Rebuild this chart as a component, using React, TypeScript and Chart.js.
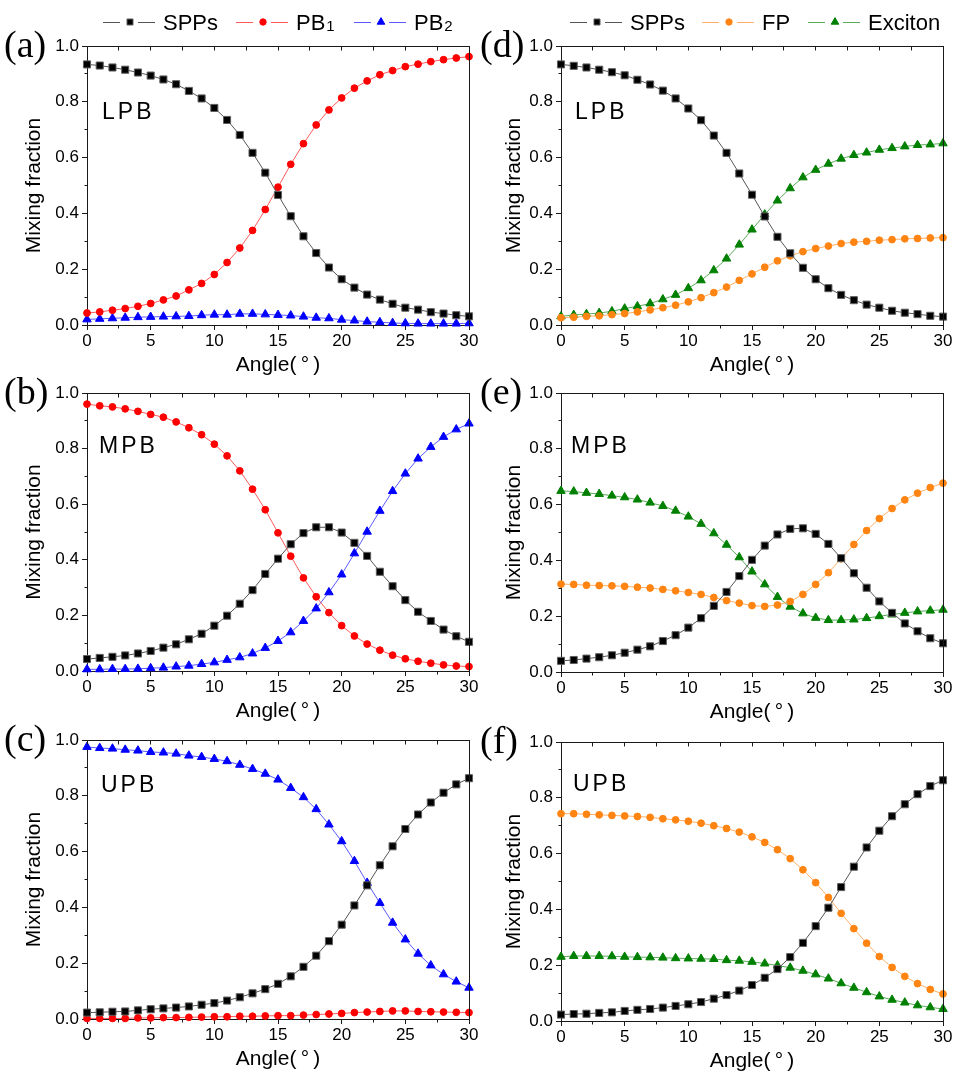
import React, { useEffect, useRef } from 'react';
import { Chart, registerables } from 'chart.js';

Chart.register(...registerables);

// ---------------- data ----------------
const angles = [0, 1, 2, 3, 4, 5, 6, 7, 8, 9, 10, 11, 12, 13, 14, 15, 16, 17, 18, 19, 20, 21, 22, 23, 24, 25, 26, 27, 28, 29, 30];

const xTickValues = [0, 5, 10, 15, 20, 25, 30];
const yTickValues = [0, 0.2, 0.4, 0.6, 0.8, 1.0];

// (a) LPB: SPPs / PB1 / PB2
const aSPPs = [0.934, 0.930, 0.923, 0.915, 0.905, 0.894, 0.880, 0.863, 0.839, 0.812, 0.778, 0.735, 0.681, 0.617, 0.546, 0.466, 0.390, 0.318, 0.258, 0.206, 0.164, 0.134, 0.109, 0.091, 0.076, 0.062, 0.055, 0.046, 0.041, 0.035, 0.031];
const aPB1 = [0.043, 0.047, 0.053, 0.059, 0.067, 0.077, 0.090, 0.104, 0.126, 0.149, 0.181, 0.224, 0.276, 0.339, 0.414, 0.494, 0.576, 0.650, 0.717, 0.771, 0.814, 0.849, 0.875, 0.897, 0.912, 0.926, 0.935, 0.944, 0.951, 0.957, 0.962];
const aPB2 = [0.020, 0.022, 0.024, 0.026, 0.028, 0.029, 0.030, 0.031, 0.032, 0.035, 0.037, 0.037, 0.040, 0.040, 0.038, 0.036, 0.034, 0.030, 0.026, 0.024, 0.019, 0.016, 0.012, 0.010, 0.007, 0.006, 0.005, 0.005, 0.005, 0.005, 0.006];

// (b) MPB: SPPs / PB1 / PB2
const bSPPs = [0.043, 0.047, 0.051, 0.056, 0.063, 0.072, 0.084, 0.096, 0.114, 0.134, 0.163, 0.199, 0.242, 0.291, 0.349, 0.404, 0.456, 0.496, 0.517, 0.517, 0.498, 0.461, 0.414, 0.357, 0.305, 0.255, 0.213, 0.180, 0.149, 0.125, 0.105];
const bPB1 = [0.960, 0.954, 0.950, 0.943, 0.934, 0.923, 0.913, 0.896, 0.875, 0.850, 0.816, 0.774, 0.720, 0.654, 0.580, 0.497, 0.413, 0.335, 0.267, 0.210, 0.163, 0.126, 0.097, 0.075, 0.057, 0.044, 0.035, 0.028, 0.022, 0.018, 0.016];
const bPB2 = [0.006, 0.006, 0.007, 0.007, 0.008, 0.010, 0.012, 0.016, 0.019, 0.025, 0.031, 0.040, 0.049, 0.063, 0.083, 0.108, 0.139, 0.180, 0.225, 0.283, 0.347, 0.423, 0.501, 0.576, 0.647, 0.710, 0.764, 0.806, 0.842, 0.869, 0.890];

// (c) UPB: SPPs / PB1 / PB2
const cSPPs = [0.023, 0.024, 0.026, 0.027, 0.031, 0.035, 0.038, 0.041, 0.045, 0.051, 0.057, 0.066, 0.078, 0.092, 0.107, 0.126, 0.153, 0.187, 0.227, 0.279, 0.338, 0.407, 0.479, 0.551, 0.619, 0.681, 0.733, 0.776, 0.811, 0.841, 0.863];
const cPB1 = [0.002, 0.002, 0.002, 0.002, 0.004, 0.004, 0.005, 0.005, 0.006, 0.007, 0.008, 0.008, 0.010, 0.010, 0.011, 0.012, 0.012, 0.014, 0.016, 0.018, 0.020, 0.023, 0.025, 0.027, 0.029, 0.029, 0.027, 0.026, 0.025, 0.024, 0.023];
const cPB2 = [0.975, 0.971, 0.969, 0.965, 0.962, 0.957, 0.955, 0.951, 0.944, 0.939, 0.932, 0.924, 0.911, 0.896, 0.879, 0.858, 0.828, 0.795, 0.752, 0.697, 0.637, 0.566, 0.488, 0.416, 0.345, 0.285, 0.234, 0.192, 0.160, 0.134, 0.112];

// (d) LPB: SPPs / FP / Exciton
const dSPPs = [0.934, 0.929, 0.923, 0.915, 0.906, 0.895, 0.879, 0.862, 0.840, 0.812, 0.776, 0.734, 0.679, 0.617, 0.543, 0.467, 0.389, 0.316, 0.257, 0.205, 0.164, 0.132, 0.108, 0.089, 0.073, 0.062, 0.051, 0.044, 0.039, 0.033, 0.030];
const dFP = [0.026, 0.028, 0.031, 0.033, 0.037, 0.041, 0.047, 0.054, 0.062, 0.071, 0.083, 0.098, 0.116, 0.136, 0.160, 0.183, 0.207, 0.230, 0.248, 0.263, 0.274, 0.283, 0.292, 0.297, 0.300, 0.304, 0.306, 0.309, 0.310, 0.312, 0.313];
const dExciton = [0.031, 0.036, 0.039, 0.043, 0.049, 0.059, 0.067, 0.077, 0.092, 0.108, 0.132, 0.160, 0.196, 0.238, 0.288, 0.342, 0.396, 0.446, 0.490, 0.529, 0.556, 0.578, 0.596, 0.609, 0.618, 0.628, 0.634, 0.640, 0.645, 0.647, 0.651];

// (e) MPB: SPPs / FP / Exciton
const eSPPs = [0.040, 0.043, 0.048, 0.053, 0.060, 0.069, 0.080, 0.092, 0.111, 0.132, 0.159, 0.193, 0.237, 0.287, 0.344, 0.402, 0.453, 0.493, 0.513, 0.515, 0.495, 0.459, 0.408, 0.354, 0.302, 0.253, 0.212, 0.174, 0.146, 0.121, 0.103];
const eFP = [0.315, 0.314, 0.311, 0.310, 0.309, 0.307, 0.304, 0.301, 0.296, 0.291, 0.285, 0.278, 0.267, 0.256, 0.247, 0.238, 0.235, 0.240, 0.253, 0.278, 0.314, 0.356, 0.406, 0.457, 0.507, 0.550, 0.586, 0.617, 0.641, 0.661, 0.677];
const eExciton = [0.649, 0.647, 0.642, 0.638, 0.632, 0.626, 0.618, 0.607, 0.595, 0.578, 0.557, 0.531, 0.497, 0.456, 0.411, 0.360, 0.314, 0.269, 0.234, 0.210, 0.194, 0.186, 0.186, 0.188, 0.193, 0.200, 0.206, 0.212, 0.217, 0.220, 0.223];

// (f) UPB: SPPs / FP / Exciton
const fSPPs = [0.023, 0.025, 0.026, 0.029, 0.031, 0.036, 0.040, 0.043, 0.048, 0.054, 0.060, 0.068, 0.080, 0.093, 0.109, 0.129, 0.155, 0.186, 0.229, 0.280, 0.340, 0.406, 0.480, 0.553, 0.622, 0.682, 0.734, 0.777, 0.813, 0.842, 0.863];
const fFP = [0.743, 0.743, 0.741, 0.739, 0.737, 0.735, 0.733, 0.730, 0.725, 0.721, 0.716, 0.709, 0.700, 0.690, 0.677, 0.660, 0.640, 0.614, 0.582, 0.542, 0.496, 0.443, 0.386, 0.331, 0.279, 0.231, 0.192, 0.160, 0.134, 0.113, 0.097];
const fExciton = [0.230, 0.233, 0.233, 0.233, 0.232, 0.230, 0.229, 0.228, 0.227, 0.225, 0.224, 0.223, 0.222, 0.218, 0.216, 0.212, 0.206, 0.199, 0.191, 0.180, 0.167, 0.152, 0.135, 0.119, 0.103, 0.088, 0.076, 0.066, 0.056, 0.049, 0.043];

// ---------------- styles ----------------
const FONT_SANS = '"Liberation Sans", Arial, Helvetica, sans-serif';
const FONT_SERIF = '"Liberation Serif", "Times New Roman", Times, serif';
const AXIS_COLOR = '#1a1a1a';

type Marker = 'rect' | 'circle' | 'triangle';
interface SeriesStyle {
  name: string;
  sub?: string;
  fill: string;
  line: string;
  edge: string;
  marker: Marker;
  radius: number;
}

const S_SPPS: SeriesStyle = { name: 'SPPs', fill: '#000000', line: '#555555', edge: '#5e5e5e', marker: 'rect', radius: 5 };
const S_PB1: SeriesStyle = { name: 'PB', sub: '1', fill: '#ff0000', line: '#ff5a5a', edge: '#ff0000', marker: 'circle', radius: 3.4 };
const S_PB2: SeriesStyle = { name: 'PB', sub: '2', fill: '#0000ff', line: '#5a5aff', edge: '#0000ff', marker: 'triangle', radius: 4.9 };
const S_FP: SeriesStyle = { name: 'FP', fill: '#ff8412', line: '#ffb066', edge: '#ff8412', marker: 'circle', radius: 3.4 };
const S_EXC: SeriesStyle = { name: 'Exciton', fill: '#008000', line: '#5aaa5a', edge: '#008000', marker: 'triangle', radius: 4.9 };

interface Box { left: number; top: number; width: number; height: number }
interface PlotBox { left: number; right: number; top: number; bottom: number }
interface PanelDef {
  key: string;
  tag: string;
  band: string;
  canvas: Box;
  plot: PlotBox;
  tagPos: { x: number; y: number };
  bandPos: { x: number; y: number };
  series: { style: SeriesStyle; values: number[] }[];
  legend?: { style: SeriesStyle; x: number }[];
}

const X_AXIS_HEIGHT = 53;

const LEFT_CANVAS = { left: 0, width: 480 };
const RIGHT_CANVAS = { left: 480, width: 475 };
const ROW_CANVAS = [
  { top: 0, height: 388 },
  { top: 372, height: 360 },
  { top: 718, height: 363 },
];

const PANELS: PanelDef[] = [
  {
    key: 'a', tag: '(a)', band: 'LPB',
    canvas: { ...LEFT_CANVAS, ...ROW_CANVAS[0] },
    plot: { left: 87, right: 469, top: 46, bottom: 325 },
    tagPos: { x: 4, y: 57 }, bandPos: { x: 102, y: 119 },
    series: [{ style: S_SPPS, values: aSPPs }, { style: S_PB1, values: aPB1 }, { style: S_PB2, values: aPB2 }],
    legend: [{ style: S_SPPS, x: 103 }, { style: S_PB1, x: 236 }, { style: S_PB2, x: 354 }],
  },
  {
    key: 'b', tag: '(b)', band: 'MPB',
    canvas: { ...LEFT_CANVAS, ...ROW_CANVAS[1] },
    plot: { left: 87, right: 469, top: 393, bottom: 671 },
    tagPos: { x: 4, y: 404 }, bandPos: { x: 99, y: 453 },
    series: [{ style: S_SPPS, values: bSPPs }, { style: S_PB1, values: bPB1 }, { style: S_PB2, values: bPB2 }],
  },
  {
    key: 'c', tag: '(c)', band: 'UPB',
    canvas: { ...LEFT_CANVAS, ...ROW_CANVAS[2] },
    plot: { left: 87, right: 469, top: 740, bottom: 1019 },
    tagPos: { x: 4, y: 751 }, bandPos: { x: 101, y: 792 },
    series: [{ style: S_SPPS, values: cSPPs }, { style: S_PB1, values: cPB1 }, { style: S_PB2, values: cPB2 }],
  },
  {
    key: 'd', tag: '(d)', band: 'LPB',
    canvas: { ...RIGHT_CANVAS, ...ROW_CANVAS[0] },
    plot: { left: 561, right: 943, top: 46, bottom: 325 },
    tagPos: { x: 480, y: 57 }, bandPos: { x: 575, y: 119 },
    series: [{ style: S_SPPS, values: dSPPs }, { style: S_FP, values: dFP }, { style: S_EXC, values: dExciton }],
    legend: [{ style: S_SPPS, x: 570 }, { style: S_FP, x: 702 }, { style: S_EXC, x: 808 }],
  },
  {
    key: 'e', tag: '(e)', band: 'MPB',
    canvas: { ...RIGHT_CANVAS, ...ROW_CANVAS[1] },
    plot: { left: 561, right: 943, top: 393, bottom: 672 },
    tagPos: { x: 480, y: 404 }, bandPos: { x: 571, y: 453 },
    series: [{ style: S_SPPS, values: eSPPs }, { style: S_FP, values: eFP }, { style: S_EXC, values: eExciton }],
  },
  {
    key: 'f', tag: '(f)', band: 'UPB',
    canvas: { ...RIGHT_CANVAS, ...ROW_CANVAS[2] },
    plot: { left: 561, right: 943, top: 742, bottom: 1021 },
    tagPos: { x: 480, y: 753 }, bandPos: { x: 573, y: 791 },
    series: [{ style: S_SPPS, values: fSPPs }, { style: S_FP, values: fFP }, { style: S_EXC, values: fExciton }],
  },
];

// ---------------- drawing helpers ----------------
const align = (v: number) => Math.round(v - 0.5) + 0.5;

function drawMarker(ctx: CanvasRenderingContext2D, st: SeriesStyle, x: number, y: number, scale: number) {
  ctx.save();
  ctx.fillStyle = st.fill;
  ctx.strokeStyle = st.edge;
  ctx.lineWidth = 1;
  ctx.beginPath();
  if (st.marker === 'rect') {
    const h = 3 * scale;
    ctx.rect(x - h, y - h, 2 * h, 2 * h);
  } else if (st.marker === 'circle') {
    ctx.arc(x, y, 3.2 * scale, 0, Math.PI * 2);
  } else {
    const r = 4.4 * scale;
    for (let k = 0; k < 3; k++) {
      const a = (k * 2 * Math.PI) / 3;
      const px = x + Math.sin(a) * r;
      const py = y - Math.cos(a) * r;
      if (k === 0) ctx.moveTo(px, py); else ctx.lineTo(px, py);
    }
    ctx.closePath();
  }
  ctx.fill();
  ctx.stroke();
  ctx.restore();
}

function makeDecorPlugin(p: PanelDef) {
  return {
    id: 'decor-' + p.key,
    afterDraw(chart: any) {
      const ctx: CanvasRenderingContext2D = chart.ctx;
      const area = chart.chartArea;
      const xs = chart.scales.x;
      const ys = chart.scales.y;
      const ox = p.canvas.left;
      const oy = p.canvas.top;
      const L = align(area.left);
      const R = align(area.right);
      const T = align(area.top);
      const B = align(area.bottom);

      ctx.save();
      ctx.strokeStyle = AXIS_COLOR;
      ctx.lineWidth = 1;
      ctx.beginPath();
      // top and right frame lines
      ctx.moveTo(L, T); ctx.lineTo(R + 0.5, T);
      ctx.moveTo(R, T); ctx.lineTo(R, B);
      // top inward ticks and bottom outward minor ticks
      for (let v = xs.min; v <= xs.max + 1e-9; v += 2.5) {
        const x = align(xs.getPixelForValue(v));
        ctx.moveTo(x, T); ctx.lineTo(x, T + 4);
        if (Math.abs(v / 5 - Math.round(v / 5)) > 1e-6) {
          ctx.moveTo(x, B); ctx.lineTo(x, B + 3);
        }
      }
      // left outward minor ticks
      for (let v = 0.1; v < ys.max; v += 0.2) {
        const y = align(ys.getPixelForValue(v));
        ctx.moveTo(L, y); ctx.lineTo(L - 3, y);
      }
      ctx.stroke();

      // panel tag
      ctx.fillStyle = '#000';
      ctx.textBaseline = 'alphabetic';
      ctx.textAlign = 'left';
      ctx.font = `38px ${FONT_SERIF}`;
      ctx.fillText(p.tag, p.tagPos.x - ox, p.tagPos.y - oy);

      // band label, letter spaced
      ctx.font = `23px ${FONT_SANS}`;
      let bx = p.bandPos.x - ox;
      for (const ch of p.band) {
        ctx.fillText(ch, bx, p.bandPos.y - oy);
        bx += ctx.measureText(ch).width + 3;
      }

      // legend
      if (p.legend) {
        const ly = 22 - oy;
        for (const item of p.legend) {
          const x0 = item.x - ox;
          const st = item.style;
          ctx.strokeStyle = st.line;
          ctx.lineWidth = 1;
          ctx.beginPath();
          ctx.moveTo(x0, ly + 0.5); ctx.lineTo(x0 + 17, ly + 0.5);
          ctx.moveTo(x0 + 35, ly + 0.5); ctx.lineTo(x0 + 52, ly + 0.5);
          ctx.stroke();
          drawMarker(ctx, st, x0 + 27, ly, 1);
          ctx.fillStyle = '#000';
          ctx.font = `22px ${FONT_SANS}`;
          ctx.fillText(st.name, x0 + 60, 30 - oy);
          if (st.sub) {
            const w = ctx.measureText(st.name).width;
            ctx.font = `15px ${FONT_SANS}`;
            ctx.fillText(st.sub, x0 + 60 + w + 1, 31 - oy);
          }
        }
      }
      ctx.restore();
    },
  };
}

function buildConfig(p: PanelDef): any {
  const yAxisWidth = p.plot.left - p.canvas.left;
  const padRight = p.canvas.left + p.canvas.width - p.plot.right;
  const padTop = p.plot.top - p.canvas.top;
  const padBottom = p.canvas.top + p.canvas.height - p.plot.bottom - X_AXIS_HEIGHT;

  const datasets = p.series.map((s) => ({
    label: s.style.name + (s.style.sub || ''),
    data: s.values.map((v, i) => ({ x: angles[i], y: v })),
    borderColor: s.style.line,
    backgroundColor: s.style.fill,
    borderWidth: 1,
    pointStyle: s.style.marker,
    pointRadius: s.style.radius,
    pointBackgroundColor: s.style.fill,
    pointBorderColor: s.style.edge,
    pointBorderWidth: 1,
    tension: 0,
    clip: false,
  }));

  const tickFont = { family: FONT_SANS, size: 17 };
  const titleFont = { family: FONT_SANS, size: 21 };

  return {
    type: 'line',
    data: { datasets },
    options: {
      animation: false,
      responsive: false,
      devicePixelRatio: 1,
      events: [],
      layout: { padding: { left: 0, right: padRight, top: padTop, bottom: padBottom } },
      plugins: { legend: { display: false }, tooltip: { enabled: false }, title: { display: false } },
      scales: {
        x: {
          type: 'linear',
          min: 0,
          max: 30,
          afterFit: (s: any) => { s.height = X_AXIS_HEIGHT; },
          afterBuildTicks: (s: any) => { s.ticks = xTickValues.map((v) => ({ value: v })); },
          ticks: { font: tickFont, color: '#000', padding: 1, maxRotation: 0, autoSkip: false },
          grid: { drawOnChartArea: false, drawTicks: true, tickLength: 5, color: AXIS_COLOR },
          border: { display: true, color: AXIS_COLOR, width: 1 },
          title: { display: true, text: 'Angle(\u2009°\u2009)', font: titleFont, color: '#000', padding: { top: 0, bottom: 0 } },
        },
        y: {
          type: 'linear',
          min: 0,
          max: 1,
          afterFit: (s: any) => { s.width = yAxisWidth; },
          afterBuildTicks: (s: any) => { s.ticks = yTickValues.map((v) => ({ value: v })); },
          ticks: { font: tickFont, color: '#000', padding: 3, callback: (v: any) => Number(v).toFixed(1) },
          grid: { drawOnChartArea: false, drawTicks: true, tickLength: 5, color: AXIS_COLOR },
          border: { display: true, color: AXIS_COLOR, width: 1 },
          title: { display: true, text: 'Mixing fraction', font: titleFont, color: '#000', padding: { top: 22, bottom: 0 } },
        },
      },
    },
    plugins: [makeDecorPlugin(p)],
  };
}

function Panel({ p }: { p: PanelDef }) {
  const ref = useRef<HTMLCanvasElement>(null);
  useEffect(() => {
    if (!ref.current) return;
    const chart = new Chart(ref.current, buildConfig(p));
    return () => chart.destroy();
  }, [p]);
  return (
    <canvas
      ref={ref}
      width={p.canvas.width}
      height={p.canvas.height}
      style={{ position: 'absolute', left: p.canvas.left, top: p.canvas.top, width: p.canvas.width, height: p.canvas.height }}
    />
  );
}

export default function App() {
  return (
    <div style={{ position: 'absolute', left: 0, top: 0, width: 955, height: 1081, background: '#fff', overflow: 'hidden' }}>
      {PANELS.map((p) => (
        <Panel key={p.key} p={p} />
      ))}
    </div>
  );
}
